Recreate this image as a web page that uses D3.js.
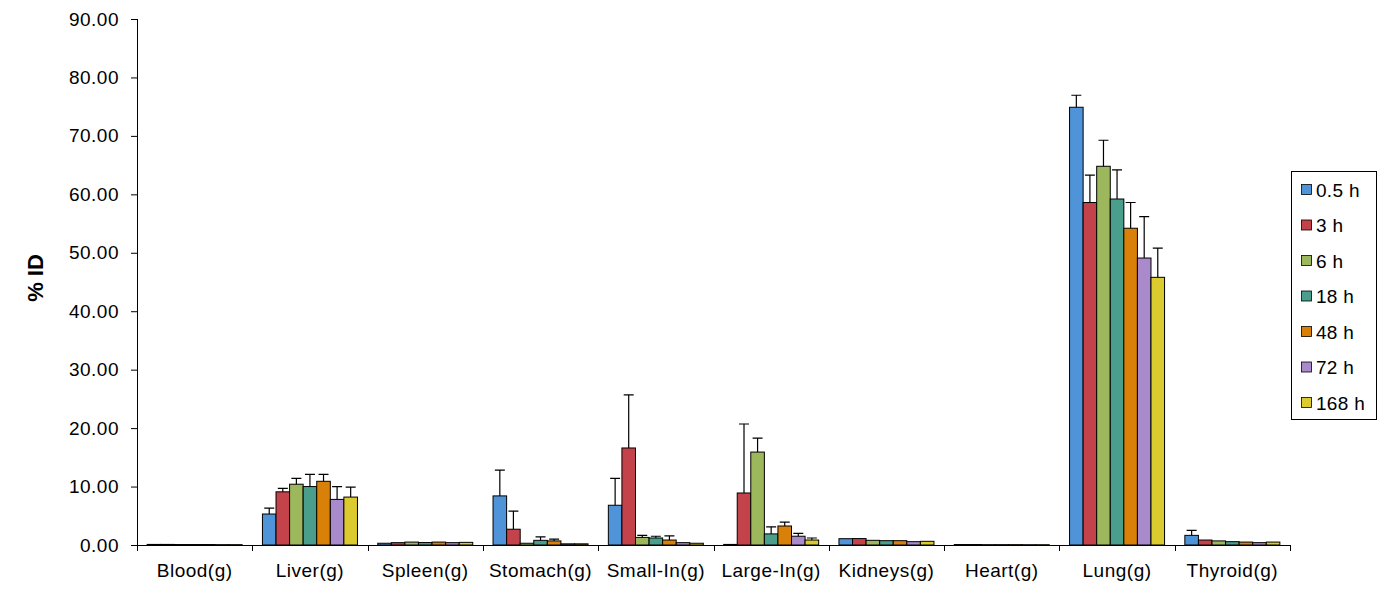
<!DOCTYPE html>
<html>
<head>
<meta charset="utf-8">
<script src="https://cdn.jsdelivr.net/npm/d3@7"></script>
<style>
  body { margin: 0; background: #fff; }
  svg { display: block; font-family: "Liberation Sans", Arial, sans-serif; }
</style>
</head>
<body>
<svg id="chart" width="1389" height="591"></svg>
<script>
const categories = ["Blood(g)", "Liver(g)", "Spleen(g)", "Stomach(g)", "Small-In(g)", "Large-In(g)", "Kidneys(g)", "Heart(g)", "Lung(g)", "Thyroid(g)"];
const seriesNames = ["0.5 h", "3 h", "6 h", "18 h", "48 h", "72 h", "168 h"];
const seriesColors = ["#4F93D8", "#C4424A", "#9DB85C", "#4A9E8C", "#D98008", "#A98BCB", "#DCCB2E"];
// values per series, one entry per category
const v05  = [0.10, 5.3, 0.30, 8.4, 6.8, 0.10, 1.08, 0.08, 74.9, 1.65];
const v3   = [0.10, 9.1, 0.40, 2.7, 16.6, 8.9, 1.10, 0.08, 58.6, 0.85];
const v6   = [0.08, 10.4, 0.50, 0.30, 1.30, 15.9, 0.80, 0.06, 64.8, 0.70];
const v18  = [0.08, 10.0, 0.42, 0.80, 1.20, 1.90, 0.74, 0.06, 59.2, 0.57];
const v48  = [0.08, 10.9, 0.50, 0.70, 0.85, 3.25, 0.74, 0.06, 54.2, 0.50];
const v72  = [0.06, 7.8, 0.40, 0.20, 0.40, 1.50, 0.57, 0.05, 49.1, 0.40];
const v168 = [0.06, 8.2, 0.45, 0.20, 0.30, 0.85, 0.63, 0.05, 45.8, 0.50];
// upper error bar tops (value + SD)
const e05  = [0.12, 6.3, 0.35, 12.8, 11.4, 0.12, 1.20, 0.09, 76.95, 2.5];
const e3   = [0.12, 9.7, 0.45, 5.8, 25.7, 20.7, 1.20, 0.09, 63.3, 0.95];
const e6   = [0.10, 11.4, 0.55, 0.40, 1.65, 18.3, 0.97, 0.07, 69.25, 0.80];
const e18  = [0.10, 12.1, 0.50, 1.40, 1.50, 3.10, 0.85, 0.07, 64.2, 0.80];
const e48  = [0.10, 12.1, 0.60, 1.00, 1.55, 3.90, 0.85, 0.07, 58.6, 0.60];
const e72  = [0.08, 10.0, 0.45, 0.30, 0.50, 2.00, 0.65, 0.06, 56.2, 0.50];
const e168 = [0.08, 9.9, 0.50, 0.30, 0.40, 1.20, 0.70, 0.06, 50.8, 0.60];
const yTicks = [0, 10, 20, 30, 40, 50, 60, 70, 80, 90];
const yLabel = "% ID";

const values = [v05, v3, v6, v18, v48, v72, v168];
const errTops = [e05, e3, e6, e18, e48, e72, e168];

const svg = d3.select("#chart");
const mLeft = 137, mRight = 1290, mTop = 19, mBottom = 545;

const x = d3.scaleBand().domain(categories).range([mLeft, mRight]).padding(0);
const bw = x.bandwidth();
const gw = bw * 0.824;
const xs = d3.scaleBand().domain(seriesNames).range([(bw - gw) / 2, (bw + gw) / 2]).padding(0);
const y = d3.scaleLinear().domain([0, 90]).range([mBottom, mTop]);

// bars
const g = svg.append("g");
seriesNames.forEach((s, si) => {
  const sg = g.append("g");
  sg.selectAll("rect").data(categories).join("rect")
    .attr("x", c => x(c) + xs(s))
    .attr("y", (c, i) => y(values[si][i]))
    .attr("width", xs.bandwidth())
    .attr("height", (c, i) => y(0) - y(values[si][i]))
    .attr("fill", seriesColors[si])
    .attr("stroke", "#000")
    .attr("stroke-width", 1);
  // error bars
  const capW = 10;
  sg.selectAll("path.err").data(categories).join("path")
    .attr("class", "err")
    .attr("d", (c, i) => {
      const cx = x(c) + xs(s) + xs.bandwidth() / 2;
      const y0 = y(values[si][i]), y1 = y(errTops[si][i]);
      if (y0 - y1 < 1.5) return null;
      return `M${cx},${y0}V${y1}M${cx - capW / 2},${y1}H${cx + capW / 2}`;
    })
    .attr("stroke", "#000").attr("stroke-width", 1.2).attr("fill", "none");
});

// y axis
const yAxis = d3.axisLeft(y).tickValues(yTicks).tickFormat(d3.format(".2f")).tickSize(6).tickSizeOuter(0);
const ya = svg.append("g").attr("transform", `translate(${mLeft},0)`).call(yAxis);
ya.select(".domain").attr("stroke", "#000").attr("d", `M0.5,${mTop}V${mBottom + 6}`);
ya.selectAll(".tick line").attr("stroke", "#000");
ya.selectAll(".tick text").attr("font-size", 19).attr("fill", "#000").attr("x", -18)
  .attr("letter-spacing", 0.5)
  .attr("font-family", "'Liberation Sans', Arial, sans-serif");

// x axis
const xa = svg.append("g").attr("transform", `translate(0,${mBottom})`);
xa.append("line").attr("x1", mLeft - 6).attr("x2", mRight).attr("y1", 0.5).attr("y2", 0.5).attr("stroke", "#000");
const bounds = categories.map(c => x(c)).concat([mRight]);
xa.selectAll("line.tk").data(bounds).join("line").attr("class", "tk")
  .attr("x1", d => Math.round(d) + 0.5).attr("x2", d => Math.round(d) + 0.5)
  .attr("y1", 0).attr("y2", 6).attr("stroke", "#000");
xa.selectAll("text").data(categories).join("text")
  .attr("x", c => x(c) + bw / 2).attr("y", 32)
  .attr("text-anchor", "middle").attr("font-size", 19).attr("letter-spacing", 0.5).attr("fill", "#000")
  .text(c => c);

// y label
svg.append("text")
  .attr("transform", `translate(43,278) rotate(-90)`)
  .attr("text-anchor", "middle").attr("font-size", 22).attr("font-weight", "bold")
  .text(yLabel);

// legend
const lg = svg.append("g");
lg.append("rect").attr("x", 1291.5).attr("y", 171.5).attr("width", 85).attr("height", 248)
  .attr("fill", "#fff").attr("stroke", "#000");
const ly = d3.scalePoint().domain(seriesNames).range([189.5, 402.5]);
seriesNames.forEach((s, si) => {
  lg.append("rect").attr("x", 1301.5).attr("y", ly(s) - 5).attr("width", 10).attr("height", 10)
    .attr("fill", seriesColors[si]).attr("stroke", "#000").attr("stroke-width", 0.8);
  lg.append("text").attr("x", 1316).attr("y", ly(s) + 7).attr("font-size", 19).attr("letter-spacing", 0.3).text(s);
});
</script>
</body>
</html>
